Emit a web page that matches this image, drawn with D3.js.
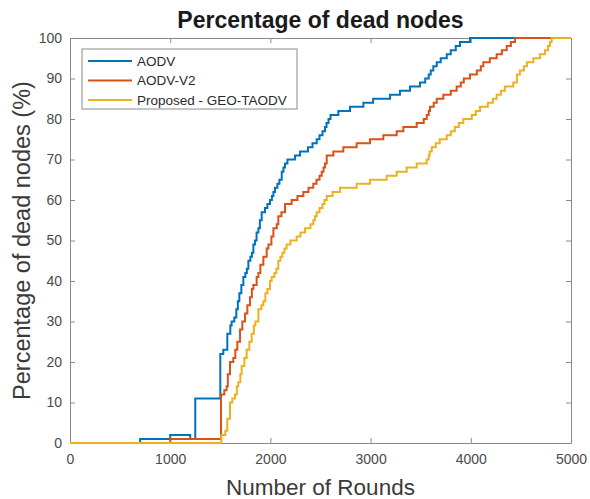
<!DOCTYPE html>
<html>
<head>
<meta charset="utf-8">
<script src="https://cdn.jsdelivr.net/npm/d3@7"></script>
<style>
  html, body { margin: 0; padding: 0; background: #fff; }
  svg { display: block; }
  text { font-family: "Liberation Sans", Arial, Helvetica, sans-serif; }
</style>
</head>
<body>
<svg id="chart" width="590" height="499"></svg>
<script>
// Percentage of dead nodes per round, as [round, percent] step points
const seriesNames = ["AODV", "AODV-V2", "Proposed - GEO-TAODV"];
const seriesColors = ["#0072BD", "#D95319", "#EDB120"];

const aodv = [
  [0,0],[700,1],[1000,2],[1200,1],[1250,11],[1500,22],[1530,23],[1570,27],[1600,29],
  [1613,30],[1640,31],[1660,33],[1675,35],[1690,37],[1710,39],[1730,41],[1750,42],
  [1765,43],[1780,45],[1800,46],[1815,47],[1830,49],[1846,50],[1862,52],[1880,53],
  [1895,55],[1913,57],[1946,58],[1970,59],[1996,60],[2015,61],[2030,62],[2046,63],
  [2070,64],[2090,65],[2113,67],[2130,68],[2146,69],[2170,70],[2245,71],[2296,72],
  [2375,73],[2420,74],[2462,75],[2490,76],[2520,77],[2545,78],[2560,79],[2580,80],
  [2600,81],[2678,82],[2795,83],[2928,84],[3025,85],[3194,86],[3293,87],[3393,88],
  [3493,89],[3545,90],[3580,91],[3600,92],[3626,93],[3660,94],[3700,95],[3760,96],
  [3800,97],[3850,98],[3892,99],[3992,100],[5000,100]
];

const aodvV2 = [
  [0,0],[1000,1],[1507,12],[1540,13],[1563,14],[1575,17],[1597,20],[1630,21],[1650,23],
  [1670,25],[1697,28],[1720,30],[1747,32],[1770,34],[1796,36],[1815,38],[1830,39],
  [1863,41],[1880,42],[1900,44],[1930,46],[1963,48],[1980,49],[2010,51],[2030,53],
  [2063,54],[2079,56],[2110,57],[2146,59],[2212,60],[2270,61],[2329,62],[2380,63],
  [2428,64],[2460,65],[2490,66],[2512,67],[2530,68],[2545,69],[2562,71],[2628,72],
  [2728,73],[2861,74],[2994,75],[3127,76],[3260,77],[3327,78],[3460,79],[3530,80],
  [3560,81],[3580,82],[3593,83],[3630,84],[3660,85],[3726,86],[3800,87],[3859,88],
  [3900,89],[3930,90],[3992,91],[4060,92],[4100,93],[4125,94],[4190,95],[4258,96],
  [4310,97],[4358,98],[4400,99],[4441,100],[5000,100]
];

const geoTaodv = [
  [0,0],[1510,2],[1550,3],[1570,6],[1597,10],[1620,11],[1647,12],[1665,14],[1680,15],
  [1700,17],[1713,19],[1740,21],[1763,23],[1790,25],[1813,27],[1835,29],[1850,30],
  [1880,33],[1910,34],[1930,35],[1950,37],[1970,38],[1996,40],[2013,41],[2040,42],
  [2060,43],[2079,45],[2100,46],[2120,47],[2140,48],[2162,49],[2200,50],[2262,51],
  [2300,52],[2345,53],[2400,54],[2428,55],[2445,56],[2462,57],[2490,58],[2520,59],
  [2540,60],[2562,61],[2620,62],[2695,63],[2861,64],[2994,65],[3160,66],[3260,67],
  [3360,68],[3460,69],[3560,70],[3580,71],[3590,72],[3610,73],[3650,74],[3690,75],
  [3760,76],[3800,77],[3840,78],[3880,79],[3925,80],[4010,81],[4050,82],[4092,83],
  [4170,84],[4220,85],[4258,86],[4300,87],[4340,88],[4424,89],[4460,91],[4490,92],
  [4530,93],[4560,94],[4624,95],[4690,96],[4740,97],[4770,98],[4790,99],[4807,100],
  [5000,100]
];

const xTicks = [0, 1000, 2000, 3000, 4000, 5000];
const yTicks = [0, 10, 20, 30, 40, 50, 60, 70, 80, 90, 100];

const titleText = "Percentage of dead nodes";
const xLabel = "Number of Rounds";
const yLabel = "Percentage of dead nodes (%)";

const W = 590, H = 499;
const margin = { left: 70, right: 19, top: 38, bottom: 56 };
const pw = W - margin.left - margin.right;
const ph = H - margin.top - margin.bottom;

const svg = d3.select("#chart");
const g = svg.append("g").attr("transform", `translate(${margin.left},${margin.top})`);

const x = d3.scaleLinear().domain([0, 5000]).range([0, pw]);
const y = d3.scaleLinear().domain([0, 100]).range([ph, 0]);

const axisColor = "#8a8a8a";
const tickTextColor = "#4a4a4a";

// plot background
g.append("rect").attr("width", pw).attr("height", ph).attr("fill", "#fff");

// axes with inward ticks on all four sides
function styleAxis(sel, showText) {
  sel.select(".domain").attr("stroke", axisColor).attr("stroke-width", 1);
  sel.selectAll(".tick line").attr("stroke", axisColor);
  sel.selectAll(".tick text")
    .attr("fill", tickTextColor)
    .style("font-size", "14px")
    .style("display", showText ? null : "none");
}

g.append("g").attr("transform", `translate(0,${ph})`)
  .call(d3.axisBottom(x).tickValues(xTicks).tickSize(-5).tickSizeOuter(0).tickPadding(11).tickFormat(d3.format("d")))
  .call(s => styleAxis(s, true));
g.append("g")
  .call(d3.axisTop(x).tickValues(xTicks).tickSize(-5).tickSizeOuter(0))
  .call(s => styleAxis(s, false));
g.append("g")
  .call(d3.axisLeft(y).tickValues(yTicks).tickSize(-5).tickSizeOuter(0).tickPadding(8).tickFormat(d3.format("d")))
  .call(s => styleAxis(s, true));
g.append("g").attr("transform", `translate(${pw},0)`)
  .call(d3.axisRight(y).tickValues(yTicks).tickSize(-5).tickSizeOuter(0))
  .call(s => styleAxis(s, false));

// staircase lines
const line = d3.line()
  .x(d => x(d[0]))
  .y(d => y(d[1]))
  .curve(d3.curveStepAfter);

const allSeries = [aodv, aodvV2, geoTaodv];
allSeries.forEach((data, i) => {
  g.append("path")
    .datum(data)
    .attr("fill", "none")
    .attr("stroke", seriesColors[i])
    .attr("stroke-width", 2)
    .attr("stroke-linejoin", "miter")
    .attr("d", line);
});

// title
svg.append("text")
  .attr("x", margin.left + pw / 2)
  .attr("y", 28)
  .attr("text-anchor", "middle")
  .attr("fill", "#1a1a1a")
  .style("font-size", "23px")
  .style("font-weight", "bold")
  .text(titleText);

// axis labels
svg.append("text")
  .attr("x", margin.left + pw / 2)
  .attr("y", 495)
  .attr("text-anchor", "middle")
  .attr("fill", "#3a3a3a")
  .style("font-size", "22.5px")
  .text(xLabel);

svg.append("text")
  .attr("transform", `translate(30,${margin.top + ph / 2}) rotate(-90)`)
  .attr("text-anchor", "middle")
  .attr("fill", "#3a3a3a")
  .style("font-size", "23.5px")
  .text(yLabel);

// legend
const legend = g.append("g").attr("transform", "translate(12,11)");
legend.append("rect")
  .attr("width", 215).attr("height", 60)
  .attr("fill", "#fff")
  .attr("stroke", axisColor).attr("stroke-width", 1);
seriesNames.forEach((name, i) => {
  const cy = 12 + i * 19.5;
  legend.append("line")
    .attr("x1", 6).attr("x2", 50)
    .attr("y1", cy).attr("y2", cy)
    .attr("stroke", seriesColors[i]).attr("stroke-width", 2);
  legend.append("text")
    .attr("x", 55).attr("y", cy)
    .attr("dy", "0.35em")
    .attr("fill", "#2a2a2a")
    .style("font-size", "13.5px")
    .text(name);
});
</script>
</body>
</html>
